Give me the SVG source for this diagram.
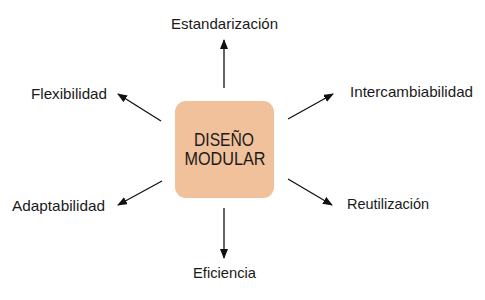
<svg xmlns="http://www.w3.org/2000/svg" width="485" height="300" viewBox="0 0 485 300">
<style>
.lbl{font-family:"Liberation Sans",Arial,sans-serif;font-size:14.5px;fill:#1a1a1a}
.ctr{font-family:"Liberation Sans",Arial,sans-serif;font-size:17.5px;fill:#1a1a1a;text-anchor:middle}
.con line{stroke:#111;stroke-width:1.3;marker-end:url(#ah)}
</style>
<defs>
<marker id="ah" viewBox="0 0 10 8" refX="9" refY="4" markerWidth="10" markerHeight="8" markerUnits="userSpaceOnUse" orient="auto">
<path d="M0,0 L10,4 L0,8 z" fill="#111"/>
</marker>
</defs>
<rect width="485" height="300" fill="#fff"/>
<g id="center">
<rect x="175" y="101" width="99" height="97" rx="11" fill="#F0C19B"/>
<text class="ctr" x="224" y="145.5" textLength="60" lengthAdjust="spacingAndGlyphs">DISEÑO</text>
<text class="ctr" x="225" y="165" textLength="81" lengthAdjust="spacingAndGlyphs">MODULAR</text>
</g>
<g id="estandarizacion"><text class="lbl" x="171" y="29" textLength="107" lengthAdjust="spacingAndGlyphs">Estandarización</text></g>
<g id="flexibilidad"><text class="lbl" x="31" y="99" textLength="76" lengthAdjust="spacingAndGlyphs">Flexibilidad</text></g>
<g id="intercambiabilidad"><text class="lbl" x="350" y="97" textLength="123" lengthAdjust="spacingAndGlyphs">Intercambiabilidad</text></g>
<g id="adaptabilidad"><text class="lbl" x="12" y="211" textLength="93" lengthAdjust="spacingAndGlyphs">Adaptabilidad</text></g>
<g id="reutilizacion"><text class="lbl" x="347" y="209" textLength="82" lengthAdjust="spacingAndGlyphs">Reutilización</text></g>
<g id="eficiencia"><text class="lbl" x="193" y="278" textLength="63" lengthAdjust="spacingAndGlyphs">Eficiencia</text></g>
<g id="connectors" class="con">
<line x1="224" y1="88" x2="224" y2="40"/>
<line x1="224" y1="208" x2="224" y2="258"/>
<line x1="161" y1="121" x2="118" y2="94"/>
<line x1="288" y1="119" x2="333" y2="94"/>
<line x1="162" y1="181" x2="118" y2="205"/>
<line x1="288" y1="179" x2="332" y2="205"/>
</g>
</svg>
